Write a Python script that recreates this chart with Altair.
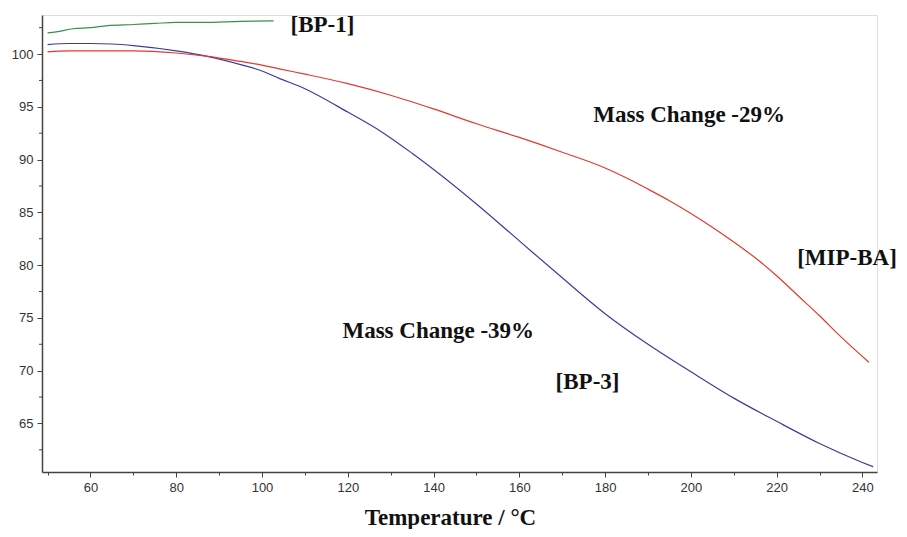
import altair as alt
import pandas as pd

# BP-1 (green)
bp1_t = [50, 52, 56, 60, 64, 70, 75, 80, 86, 95, 102.7]
bp1_m = [102.0, 102.1, 102.4, 102.5, 102.7, 102.8, 102.9, 103.0, 103.0, 103.1, 103.15]

# BP-3 (blue)
bp3_t = [50, 55, 60, 65, 70, 80, 87, 95, 100, 104, 109, 120, 128, 135, 150, 160, 170, 180, 190, 200, 210, 220, 230, 240, 242.5]
bp3_m = [100.9, 101.0, 101.0, 100.95, 100.8, 100.3, 99.8, 99.0, 98.4, 97.7, 96.9, 94.5, 92.6, 90.6, 85.8, 82.3, 78.8, 75.4, 72.5, 69.9, 67.4, 65.2, 63.1, 61.3, 60.9]

# MIP-BA (red)
mip_t = [50, 55, 60, 70, 80, 87, 95, 100, 104, 110, 120, 130, 140, 150, 160, 170, 180, 185, 190, 195, 200, 205, 210, 215, 220, 225, 230, 235, 241.5]
mip_m = [100.2, 100.3, 100.3, 100.3, 100.1, 99.8, 99.3, 98.95, 98.6, 98.1, 97.2, 96.1, 94.8, 93.4, 92.1, 90.7, 89.2, 88.25, 87.2, 86.1, 84.9, 83.6, 82.2, 80.7, 79.0, 77.1, 75.2, 73.2, 70.8]

labels = ["[BP-1]", "Mass Change -29%", "[MIP-BA]", "Mass Change -39%", "[BP-3]"]
label_t = [114.1, 199.6, 236.4, 141.1, 175.9]
label_m = [102.75, 94.2, 80.7, 73.8, 68.9]

x_ticks = [50, 60, 70, 80, 90, 100, 110, 120, 130, 140, 150, 160, 170, 180, 190, 200, 210, 220, 230, 240]
y_major = [65, 70, 75, 80, 85, 90, 95, 100]
y_minor = [62.5, 67.5, 72.5, 77.5, 82.5, 87.5, 92.5, 97.5, 102.5]

rows = []
for name, ts, ms in [("BP-1", bp1_t, bp1_m), ("BP-3", bp3_t, bp3_m), ("MIP-BA", mip_t, mip_m)]:
    for i, (t, m) in enumerate(zip(ts, ms)):
        rows.append({"series": name, "T": t, "m": m, "order": i})
df = pd.DataFrame(rows)
lab = pd.DataFrame({"text": labels, "T": label_t, "m": label_m})
minor = pd.DataFrame({"m": y_minor})

xscale = alt.Scale(domain=[48.7, 243.4], nice=False, zero=False)
yscale = alt.Scale(domain=[60.4, 103.7], nice=False, zero=False)

xaxis = alt.Axis(
    values=x_ticks,
    labelExpr="datum.value % 20 == 0 ? datum.label : ''",
    labelOverlap=False,
    grid=False,
    tickSize={"condition": {"test": "datum.value % 20 == 0", "value": 5}, "value": 3},
    domainColor="#444444", tickColor="#444444", domainWidth=1.5,
    labelFont="Liberation Sans", labelFontSize=13, labelColor="#333333", labelPadding=4,
    title="Temperature / °C", titleFont="Liberation Serif", titleFontSize=23,
    titleFontWeight="bold", titleColor="#111111",
    titleAnchor="start", titleAlign="center", titleX=408, titleY=52, titleBaseline="alphabetic",
)
yaxis = alt.Axis(
    values=y_major,
    format="d",
    labelOverlap=False,
    grid=False,
    tickSize=5,
    domainColor="#444444", tickColor="#444444", domainWidth=1.5,
    labelFont="Liberation Sans", labelFontSize=13, labelColor="#333333", labelPadding=4,
    title=None,
)

lines = alt.Chart(df).mark_line(strokeWidth=1.2, interpolate="monotone").encode(
    x=alt.X("T:Q", scale=xscale, axis=xaxis),
    y=alt.Y("m:Q", scale=yscale, axis=yaxis),
    color=alt.Color("series:N",
                    scale=alt.Scale(domain=["BP-1", "BP-3", "MIP-BA"],
                                    range=["#3a8f4a", "#3c3ca0", "#e03a30"]),
                    legend=None),
    order="order:Q",
)

minor_ticks = alt.Chart(minor).mark_rule(color="#444444", strokeWidth=1).encode(
    y=alt.Y("m:Q", scale=yscale),
    x=alt.value(-3),
    x2=alt.value(0),
)

texts = alt.Chart(lab).mark_text(
    font="Liberation Serif", fontSize=23, fontWeight="bold", color="#111111",
    align="center", baseline="middle",
).encode(
    x=alt.X("T:Q", scale=xscale),
    y=alt.Y("m:Q", scale=yscale),
    text="text:N",
)

chart = alt.layer(lines, minor_ticks, texts).properties(
    width=835, height=457,
    autosize=alt.AutoSizeParams(type="none"),
    padding={"left": 34, "top": 7, "right": 22, "bottom": 57},
).configure_view(stroke=None).configure(background="white")

chart.save("out.html", embed_options={"renderer": "svg", "actions": False})
